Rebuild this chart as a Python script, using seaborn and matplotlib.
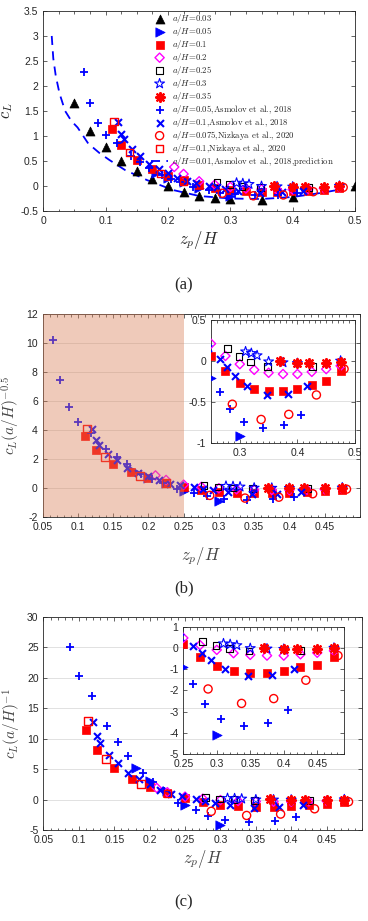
import numpy as np
import pandas as pd
import matplotlib
matplotlib.use('Agg')
import matplotlib.pyplot as plt
import seaborn as sns
from matplotlib.ticker import MultipleLocator, FixedLocator, FormatStrFormatter

sns.set_style('ticks')
plt.rcParams['font.family'] = ['Liberation Sans', 'DejaVu Sans']
plt.rcParams['mathtext.fontset'] = 'cm'
plt.rcParams['axes.unicode_minus'] = False

# lift coefficient c_L versus z_p/H, one block per data set
zp_a003 = [0.05, 0.075, 0.1, 0.125, 0.15, 0.175, 0.2, 0.225, 0.25, 0.275, 0.3, 0.35, 0.4, 0.5]
cl_a003 = [1.65, 1.09, 0.78, 0.5, 0.29, 0.13, -0.01, -0.12, -0.2, -0.25, -0.27, -0.29, -0.23, -0.01]

zp_a005 = [0.18, 0.2, 0.225, 0.25, 0.3]
cl_a005 = [0.255, 0.15, 0.07, -0.046, -0.205]

zp_a01 = [0.11, 0.125, 0.15, 0.175, 0.2, 0.225, 0.25, 0.275, 0.3, 0.325, 0.35, 0.375, 0.4, 0.425, 0.45, 0.475]
cl_a01 = [1.14, 0.82, 0.52, 0.34, 0.205, 0.11, 0.02, -0.041, -0.084, -0.109, -0.117, -0.117,
          -0.109, -0.092, -0.079, -0.041]

zp_a02 = [0.21, 0.225, 0.25, 0.275, 0.3, 0.325, 0.35, 0.375, 0.4, 0.425, 0.45, 0.475]
cl_a02 = [0.38, 0.24, 0.094, 0.027, -0.018, -0.049, -0.065, -0.072, -0.072, -0.06, -0.045, -0.027]

zp_a025 = [0.279, 0.299, 0.319, 0.348, 0.426]
cl_a025 = [0.076, 0.028, -0.007, -0.035, -0.033]

zp_a03 = [0.31, 0.32, 0.33, 0.35, 0.375, 0.4, 0.475]
cl_a03 = [0.062, 0.051, 0.036, -0.005, -0.011, -0.016, 0.0]

zp_a035 = [0.37, 0.4, 0.42, 0.45, 0.475]
cl_a035 = [0.002, -0.012, -0.012, -0.012, -0.006]

zp_asm005 = [0.065, 0.075, 0.088, 0.1, 0.118, 0.14, 0.155, 0.17, 0.19, 0.205, 0.22, 0.24,
             0.265, 0.283, 0.307, 0.34, 0.377, 0.407]
cl_asm005 = [2.28, 1.66, 1.25, 1.01, 0.85, 0.6, 0.47, 0.36, 0.215, 0.14, 0.07, -0.025,
             -0.084, -0.132, -0.168, -0.183, -0.176, -0.147]

zp_asm01 = [0.12, 0.125, 0.13, 0.143, 0.155, 0.17, 0.185, 0.2, 0.215, 0.23, 0.245, 0.265,
            0.278, 0.292, 0.313, 0.347, 0.383, 0.416]
cl_asm01 = [1.28, 1.04, 0.93, 0.73, 0.6, 0.43, 0.33, 0.25, 0.16, 0.09, 0.05, 0.008,
            -0.022, -0.058, -0.097, -0.131, -0.128, -0.097]

zp_niz0075 = [0.287, 0.337, 0.385, 0.433, 0.481]
cl_niz0075 = [-0.145, -0.196, -0.179, -0.114, -0.027]

zp_niz01 = [0.113, 0.138, 0.188, 0.225]
cl_niz01 = [1.29, 0.67, 0.25, 0.1]

# Asmolov et al. 2018 prediction for a/H = 0.01
zp_pred = [0.0135, 0.016, 0.02, 0.026, 0.035, 0.045, 0.055, 0.072, 0.09, 0.106, 0.131, 0.166,
           0.208, 0.25, 0.3, 0.35, 0.4, 0.45, 0.48]
cl_pred = [3.0, 2.55, 2.2, 1.85, 1.5, 1.3, 1.17, 0.85, 0.66, 0.52, 0.32, 0.12,
           -0.08, -0.2, -0.25, -0.26, -0.22, -0.13, -0.06]

# (label, a/H, z, cL, marker, colour, fill, size, linewidth, shown in (b)/(c))
series = [
    (r'$a/H$=0.03', 0.03, zp_a003, cl_a003, '^', 'black', 'full', 42, 0.5, False),
    (r'$a/H$=0.05', 0.05, zp_a005, cl_a005, '>', 'blue', 'full', 45, 0.5, True),
    (r'$a/H$=0.1', 0.1, zp_a01, cl_a01, 's', 'red', 'full', 26, 0.5, True),
    (r'$a/H$=0.2', 0.2, zp_a02, cl_a02, 'D', 'magenta', 'none', 22, 1.0, True),
    (r'$a/H$=0.25', 0.25, zp_a025, cl_a025, 's', 'black', 'none', 22, 0.8, True),
    (r'$a/H$=0.3', 0.3, zp_a03, cl_a03, '*', 'blue', 'none', 55, 0.8, True),
    (r'$a/H$=0.35', 0.35, zp_a035, cl_a035, (8, 2, 0), 'red', 'line', 40, 1.6, True),
    (r'$a/H$=0.05,Asmolov et al., 2018', 0.05, zp_asm005, cl_asm005, '+', 'blue', 'line', 40, 1.3, True),
    (r'$a/H$=0.1,Asmolov et al., 2018', 0.1, zp_asm01, cl_asm01, 'x', 'blue', 'line', 25, 1.5, True),
    (r'$a/H$=0.075,Nizkaya et al., 2020', 0.075, zp_niz0075, cl_niz0075, 'o', 'red', 'none', 34, 1.0, True),
    (r'$a/H$=0.1,Nizkaya et al., 2020', 0.1, zp_niz01, cl_niz01, 's', 'red', 'none', 30, 1.0, True),
]

tick_color = '#262626'


def draw(ax, x, y, marker, color, fill, size, lw, label=None):
    kw = dict(marker=marker, s=size, linewidths=lw, ax=ax, legend=False, zorder=3)
    if fill == 'full':
        sns.scatterplot(x=x, y=y, color=color, edgecolor=color, label=label, **kw)
    elif fill == 'none':
        sns.scatterplot(x=x, y=y, color=color, facecolors='none', edgecolor=color, label=label, **kw)
    else:
        sns.scatterplot(x=x, y=y, color=color, label=label, **kw)


def style(ax, size=7.5):
    for sp in ax.spines.values():
        sp.set_visible(True)
        sp.set_linewidth(0.6)
        sp.set_color(tick_color)
    ax.tick_params(which='both', direction='in', top=True, right=True,
                   labelsize=size, colors=tick_color, width=0.5)
    ax.tick_params(which='major', length=3)
    ax.tick_params(which='minor', length=1.8)
    ax.xaxis.set_major_formatter(FormatStrFormatter('%g'))
    ax.yaxis.set_major_formatter(FormatStrFormatter('%g'))


fig = plt.figure(figsize=(3.68, 9.21), dpi=100)

# ---------------- (a) ----------------
ax_a = fig.add_axes([0.1177, 0.7709, 0.847, 0.2172])
for lab, ah, z, cl, mk, col, fill, s, lw, inbc in series:
    draw(ax_a, z, cl, mk, col, fill, s, lw, label=lab)
sns.lineplot(x=zp_pred, y=cl_pred, ax=ax_a, color='blue', lw=1.3, dashes=False,
             label=r'$a/H$=0.01,Asmolov et al., 2018,prediction', zorder=2)
ax_a.lines[-1].set_dashes((5, 3.5))
ax_a.set_xlim(0, 0.5)
ax_a.set_ylim(-0.5, 3.5)
ax_a.xaxis.set_major_locator(MultipleLocator(0.1))
ax_a.xaxis.set_minor_locator(MultipleLocator(0.025))
ax_a.yaxis.set_major_locator(MultipleLocator(0.5))
style(ax_a)
ax_a.set_xlabel(r'$z_p/H$', fontsize=12, labelpad=2)
ax_a.set_ylabel(r'$c_L$', fontsize=12, labelpad=4)
leg = ax_a.legend(loc='upper left', bbox_to_anchor=(0.345, 0.995), frameon=False,
                  prop={'family': 'cmr10', 'size': 6.3}, labelspacing=0.0,
                  handlelength=2.0, handletextpad=0.4, borderaxespad=0, borderpad=0)
fig.text(0.5, 1 - 285 / 921, '(a)', ha='center', va='center', family='Liberation Serif', size=12)

# ---------------- (b) and (c) ----------------
panels = [
    dict(main=[0.116, 0.4390, 0.862, 0.2201], inset=[0.5734, 0.5193, 0.3913, 0.1333],
         power=0.5, ylim=(-2, 12), ystep=2, iylim=(-1, 0.5), iystep=0.5,
         ixlim=(0.25, 0.5), ixticks=[0.3, 0.4, 0.5], ylabel=r'$c_L(a/H)^{-0.5}$',
         tag='(b)', tag_y=1 - 588 / 921, shade=True, xpad=10),
    dict(main=[0.1182, 0.0988, 0.8655, 0.2316], inset=[0.4981, 0.1813, 0.4367, 0.1382],
         power=1.0, ylim=(-5, 30), ystep=5, iylim=(-5, 1), iystep=1,
         ixlim=(0.25, 0.49), ixticks=[0.25, 0.3, 0.35, 0.4, 0.45], ylabel=r'$c_L(a/H)^{-1}$',
         tag='(c)', tag_y=1 - 902 / 921, shade=False, xpad=2),
]

for p in panels:
    ax = fig.add_axes(p['main'])
    ins = fig.add_axes(p['inset'], facecolor='none')
    for lab, ah, z, cl, mk, col, fill, s, lw, inbc in series:
        if not inbc:
            continue
        yv = np.array(cl) * ah ** (-p['power'])
        draw(ax, z, yv, mk, col, fill, s, lw)
        draw(ins, z, yv, mk, col, fill, s, lw)
    ax.set_xlim(0.05, 0.5)
    ax.set_ylim(*p['ylim'])
    ax.xaxis.set_major_locator(FixedLocator(np.arange(0.05, 0.46, 0.05)))
    ax.xaxis.set_minor_locator(MultipleLocator(0.01))
    ax.yaxis.set_major_locator(MultipleLocator(p['ystep']))
    ax.grid(axis='y', color='#dcdcdc', lw=0.6, zorder=0)
    ax.set_axisbelow(True)
    style(ax)
    ax.set_xlabel(r'$z_p/H$', fontsize=12, labelpad=p['xpad'], color='#444444')
    ax.set_ylabel(p['ylabel'], fontsize=11, labelpad=3, color='#444444')
    if p['shade']:
        ax.axvspan(0.05, 0.25, color='#D9825B', alpha=0.42, lw=0, zorder=5)

    ins.set_xlim(*p['ixlim'])
    ins.set_ylim(*p['iylim'])
    ins.xaxis.set_major_locator(FixedLocator(p['ixticks']))
    ins.xaxis.set_minor_locator(MultipleLocator(0.01))
    ins.yaxis.set_major_locator(MultipleLocator(p['iystep']))
    style(ins)
    ins.set_xlabel('')
    ins.set_ylabel('')
    fig.text(0.5, p['tag_y'], p['tag'], ha='center', va='center', family='Liberation Serif', size=12)

fig.savefig('out.png', dpi=100)
